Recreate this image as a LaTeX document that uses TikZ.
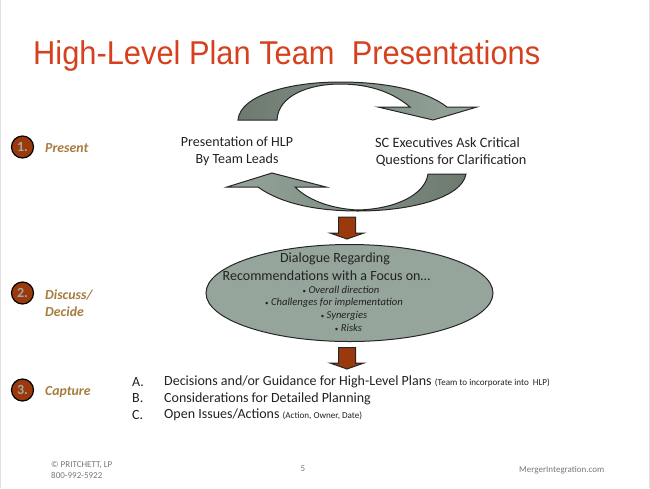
\documentclass[tikz,border=0pt]{standalone}
\usepackage{fontspec}
\setmainfont{Carlito}
\newfontfamily\titlefont[FakeStretch=0.934]{Liberation Sans}
\usetikzlibrary{shapes.geometric}
\definecolor{titlered}{HTML}{D5411F}
\definecolor{rust}{HTML}{9A3A0C}
\definecolor{sage}{HTML}{95A59B}
\definecolor{sagedark}{HTML}{6E7A6F}
\definecolor{ochre}{HTML}{A67C3E}
\definecolor{inktext}{HTML}{222222}
\definecolor{footgray}{HTML}{777777}
\tikzset{
  cyclearrow/.style = {draw = black!85, line width = 1pt, line join = miter, left color = sagedark, right color = sage},
  downarrow/.style = {draw = black!85, line width = 1pt, fill = rust},
  badge/.style = {circle, draw = black, line width = 1.2pt, fill = rust, minimum size = 22pt, inner sep = 0pt, text = black!35, font = \bfseries\fontsize{14}{14}\selectfont},
  stagetext/.style = {anchor = west, text = ochre, align = left, font = \bfseries\itshape\fontsize{13.8}{17}\selectfont},
  bodytext/.style = {text = inktext, align = center, font = \fontsize{14}{17}\selectfont},
  bullettext/.style = {text = inktext, font = \itshape\fontsize{10.6}{10.6}\selectfont},
  listtext/.style = {anchor = west, text = inktext, font = \fontsize{14}{14}\selectfont},
  foottext/.style = {text = footgray, font = \fontsize{9}{11}\selectfont}
}
\newcommand{\smallnote}[1]{{\fontsize{9.1}{9.1}\selectfont #1}}
\newcommand{\dotmark}{{\upshape\fontsize{7}{7}\selectfont •}\ }
\begin{document}
\begin{tikzpicture}[x = 1pt, y = -1pt]
    \useasboundingbox (0,0) rectangle (650,488);
    \draw[black!12, line width = 1pt] (0.5,0) -- (0.5,488);
    \draw[black!12, line width = 1pt] (649.5,0) -- (649.5,488);
    \node[anchor = west, text = titlered, font = \titlefont\fontsize{33}{33}\selectfont, inner sep = 0pt] (title) at (33,56) {High-Level Plan Team\ \ Presentations};

    % cycle arrows
    \draw[cyclearrow] (238,120) .. controls (240,95) and (290,82) .. (340,82)
        .. controls (385,82) and (425,90) .. (447,107) -- (477,107) -- (433,120) -- (378,107) -- (410,107)
        .. controls (390,90) and (365,84) .. (340,84) .. controls (310,84) and (278,95) .. (277,120) -- cycle;
    \draw[cyclearrow, left color = sage, right color = sagedark] (466,174) .. controls (462,198) and (410,211) .. (358,211)
        .. controls (315,211) and (280,203) .. (258,187) -- (227,187) -- (272,173) -- (326,187) -- (295,187)
        .. controls (310,202) and (335,209) .. (358,210) .. controls (395,209) and (425,195) .. (428,174) -- cycle;
    \node[bodytext] (hlp) at (237,151) {Presentation of HLP\\By Team Leads};
    \node[bodytext, font = \fontsize{14.3}{17}\selectfont] (sc) at (447.5,151.5) {SC Executives Ask Critical\\\hspace*{.5em}Questions for Clarification};

    % down arrows and ellipse
    \draw[downarrow] (338.5,217) -- (355.5,217) -- (355.5,233) -- (364,233) -- (347,239) -- (330,233) -- (338.5,233) -- cycle;
    \node[ellipse, draw = black!85, line width = 1pt, fill = sage, minimum width = 287pt, minimum height = 97pt] (talk) at (349.5,293) {};
    \draw[downarrow] (338.5,347.5) -- (355.5,347.5) -- (355.5,363) -- (364,363) -- (347,369) -- (330,363) -- (338.5,363) -- cycle;
    \node[bodytext] (dialogue) at (335,259) {Dialogue Regarding};
    \node[bodytext] (recommend) at (326.5,276) {Recommendations with a Focus on…};
    \node[bullettext] (overall) at (341,290) {\dotmark Overall direction};
    \node[bullettext] (challenges) at (334,303) {\dotmark Challenges for implementation};
    \node[bullettext] (synergies) at (344,316) {\dotmark Synergies};
    \node[bullettext] (risks) at (348.5,328) {\dotmark Risks};

    % stages on the left
    \node[badge] (one) at (22.5,147) {1.};
    \node[badge] (two) at (22.5,293) {2.};
    \node[badge] (three) at (22.5,390) {3.};
    \node[stagetext, inner sep = 0pt] (present) at (45,148.5) {Present};
    \node[stagetext, inner sep = 0pt] (discuss) at (45,303.5) {Discuss/\\Decide};
    \node[stagetext, inner sep = 0pt] (capture) at (45,392) {Capture};

    % capture list
    \foreach \y/\letter in {382/A, 398.5/B, 415/C} {
        \node[listtext, inner sep = 0pt] at (132,\y) {\letter.};
    }
    \node[listtext, inner sep = 0pt] (decisions) at (164,382) {Decisions and/or Guidance for High-Level Plans \smallnote{(Team to incorporate into\ \ HLP)}};
    \node[listtext, inner sep = 0pt] (planning) at (164,398.5) {Considerations for Detailed Planning};
    \node[listtext, inner sep = 0pt] (issues) at (164,415) {Open Issues/Actions \smallnote{(Action, Owner, Date)}};

    % footer
    \node[foottext, anchor = west, align = left, inner sep = 0pt] (firm) at (51,469.5) {© PRITCHETT, LP\\800-992-5922};
    \node[foottext] (page) at (303,469) {5};
    \node[foottext, anchor = west, inner sep = 0pt] (site) at (519,470) {MergerIntegration.com};
\end{tikzpicture}
\end{document}
